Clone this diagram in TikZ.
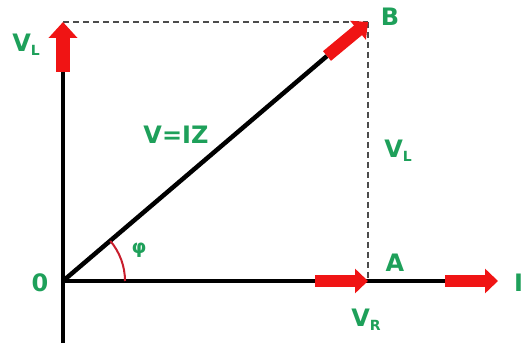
\documentclass[tikz,border=0pt]{standalone}
\usepackage{fontspec}
\setmainfont{DejaVu Sans}
\usetikzlibrary{arrows.meta}
\definecolor{lblgreen}{RGB}{30,160,90}
\definecolor{vecred}{RGB}{240,20,20}
\definecolor{arcred}{RGB}{200,30,45}
\newcommand{\sub}[1]{{\fontsize{14}{14}\selectfont\raisebox{-4pt}{#1}}}

\begin{document}
\begin{tikzpicture}[x=1pt, y=-1pt]
    \tikzset{
        lbl/.style={text=lblgreen, font=\bfseries\fontsize{24}{26}\selectfont, inner sep=0pt},
        axisline/.style={line width=4.5pt},
        vec/.style={vecred, line width=12.5pt, -{Triangle[length=13pt,width=24pt]}},
        guide/.style={gray!60!black, line width=1.2pt, dash pattern=on 6pt off 4pt},
    }
    \useasboundingbox (0,0) rectangle (522,347);

    \coordinate (O) at (63,281);
    \coordinate (A) at (368,281);
    \coordinate (B) at (368,22);
    \coordinate (C) at (63,22);
    \coordinate (ybot) at (63,343);
    \coordinate (ytop) at (63,72);
    \coordinate (xend) at (450,281);
    \coordinate (vrtail) at (315,281);
    \coordinate (itail) at (445,281);
    \coordinate (itip) at (498,281);
    \coordinate (vtail) at (327,56);

    % dashed projections
    \draw[guide] (C) -- (B);
    \draw[guide] (B) -- (A);

    % axes and V
    \draw[axisline] (ybot) -- (ytop);
    \draw[axisline] (O) -- (xend);
    \draw[axisline] (O) -- (vtail);

    % phasors
    \draw[vec, -{Triangle[length=16pt,width=28pt]}, line width=14pt] (ytop) -- (C);
    \draw[vec] (vrtail) -- (A);
    \draw[vec] (itail) -- (itip);
    \draw[vec] (vtail) -- (B);

    % angle
    \draw[arcred, line width=2pt] (125,281) arc[start angle=0, end angle=-40.3, radius=62];

    \node[lbl] (vl1) at (26,45) {V\sub{L}};
    \node[lbl] (bl) at (390,17) {B};
    \node[lbl] (vz) at (176,135) {V=IZ};
    \node[lbl] (vl2) at (398,151) {V\sub{L}};
    \node[lbl, font=\bfseries\fontsize{19}{20}\selectfont] (phi) at (139,250) {φ};
    \node[lbl] (ol) at (40,283) {0};
    \node[lbl] (al) at (395,263) {A};
    \node[lbl] (vr) at (366,320) {V\sub{R}};
    \node[lbl, anchor=west] (il) at (514,283) {I};
\end{tikzpicture}
\end{document}
